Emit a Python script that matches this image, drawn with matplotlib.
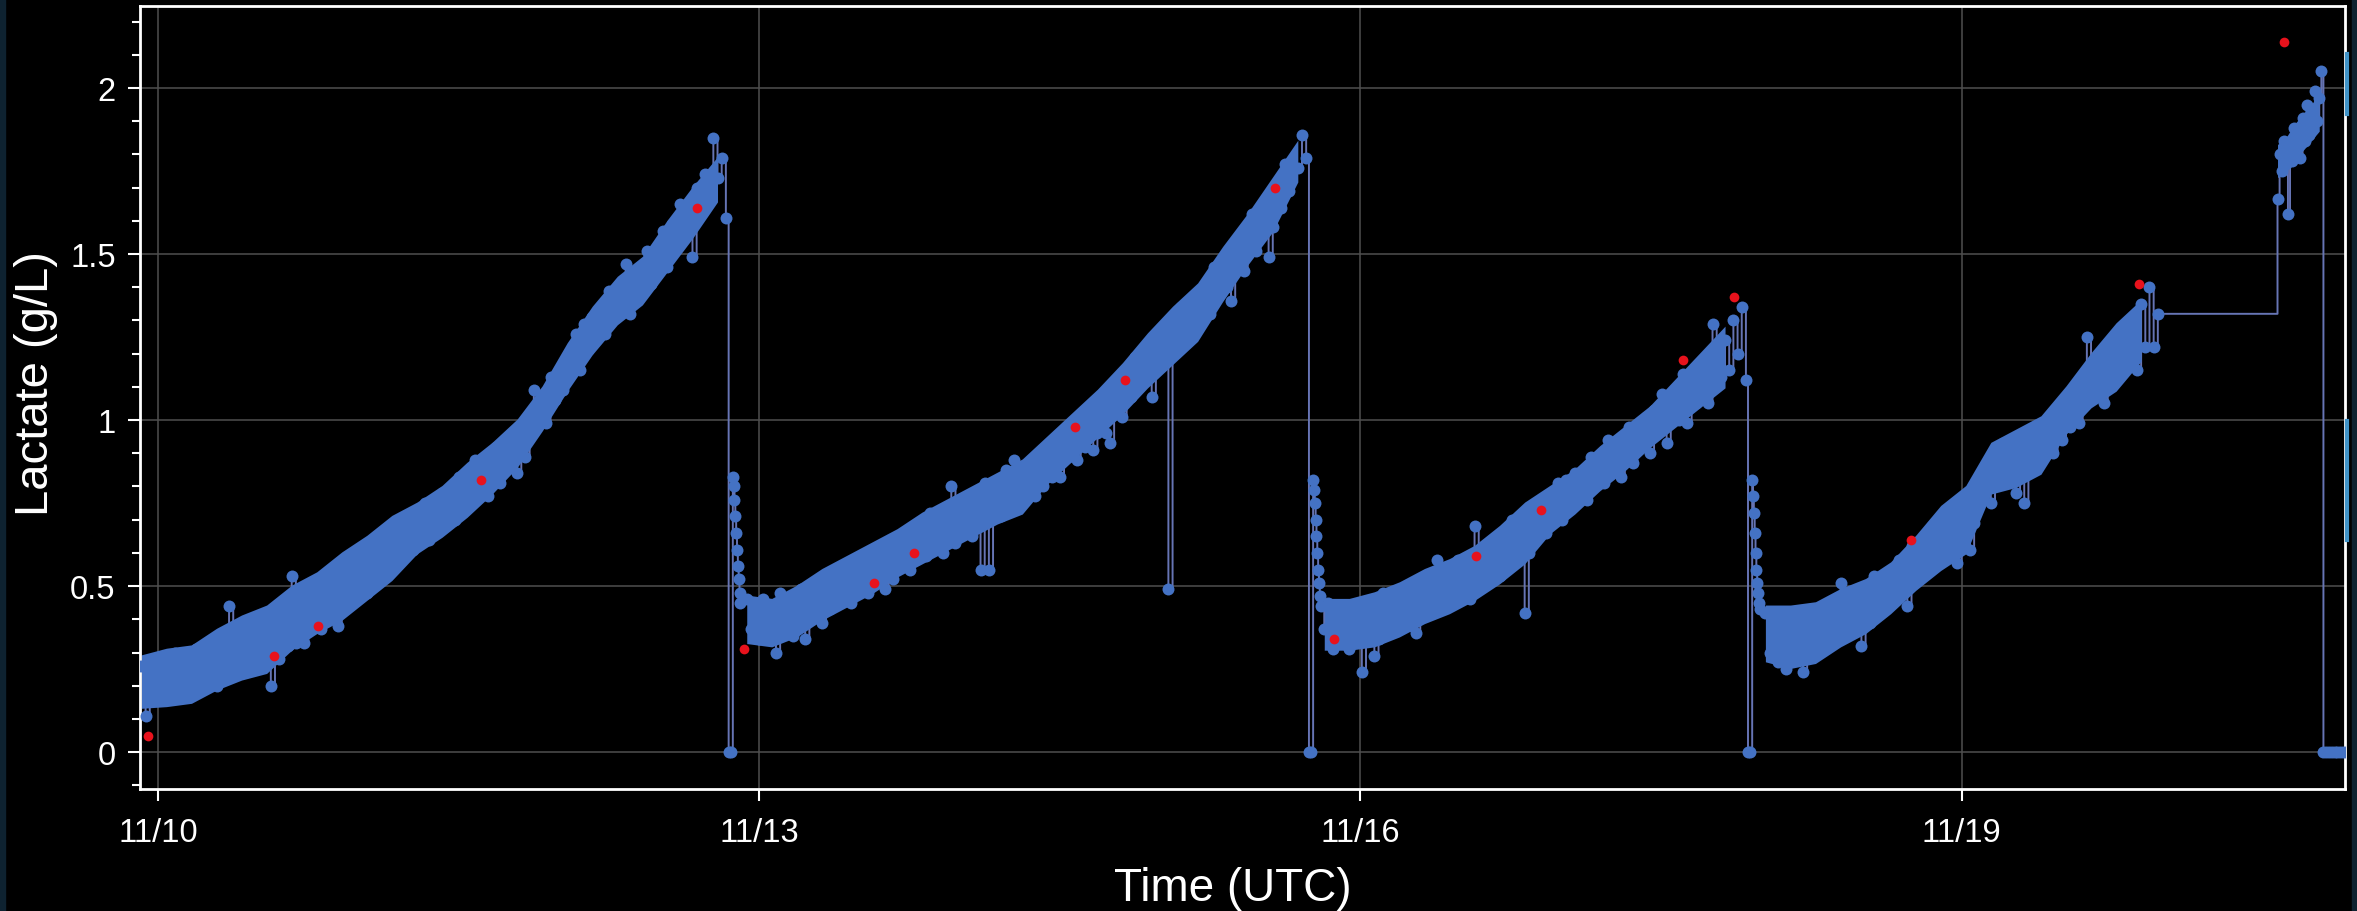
import numpy as np
import pandas as pd
import matplotlib
matplotlib.use("Agg")
import matplotlib.pyplot as plt
import matplotlib.dates as mdates
from matplotlib.ticker import MultipleLocator, FuncFormatter
from matplotlib.lines import Line2D
from matplotlib.patches import Rectangle

plt.rcParams['font.family'] = ['Liberation Sans', 'DejaVu Sans']

# ---------------- online probe readings (g/L) ----------------
# Each run has a start time and a constant sampling interval.
run_a_start, run_a_step = "2023-11-09 22:00", "30min"
run_a = [0.26, 0.11, 0.22, 0.16, 0.28, 0.20, 0.25, 0.18, 0.30, 0.20, 0.24, 0.17,
         0.21, 0.31, 0.19, 0.27, 0.25, 0.31, 0.20, 0.31, 0.23, 0.44, 0.26, 0.32,
         0.31, 0.24, 0.37, 0.28, 0.35, 0.27, 0.33, 0.20, 0.40, 0.28, 0.40, 0.32,
         0.53, 0.33, 0.39, 0.33, 0.45, 0.38, 0.44, 0.37, 0.50, 0.40, 0.44, 0.38,
         0.46, 0.56, 0.45, 0.54, 0.52, 0.59, 0.48, 0.60, 0.53, 0.65, 0.57, 0.63,
         0.63, 0.56, 0.70, 0.61, 0.69, 0.61, 0.68, 0.66, 0.75, 0.64, 0.76, 0.68,
         0.78, 0.70, 0.76, 0.70, 0.83, 0.76, 0.82, 0.75, 0.88, 0.79, 0.83, 0.77,
         0.82, 0.92, 0.81, 0.90, 0.88, 0.95, 0.84, 0.96, 0.89, 1.01, 1.09, 1.00,
         1.05, 0.99, 1.13, 1.06, 1.15, 1.09, 1.17, 1.15, 1.26, 1.15, 1.29, 1.21,
         1.31, 1.24, 1.31, 1.26, 1.39, 1.33, 1.39, 1.33, 1.47, 1.32, 1.43, 1.38,
         1.40, 1.51, 1.41, 1.50, 1.49, 1.57, 1.46, 1.59, 1.53, 1.65, 1.58, 1.65,
         1.49, 1.70, 1.62, 1.74, 1.68, 1.85, 1.73, 1.79, 1.61]

zeros_1_start, zeros_1_step = "2023-11-12 20:20", "15min"
zeros_1 = [0.0, 0.0]
recovery_1_start, recovery_1_step = "2023-11-12 20:50", "6min"
recovery_1 = [0.83, 0.80, 0.76, 0.71, 0.66, 0.61, 0.56, 0.52, 0.48, 0.45]

run_b_start, run_b_step = "2023-11-12 22:30", "30min"
run_b = [0.46, 0.37, 0.41, 0.34, 0.46, 0.38, 0.43, 0.30, 0.48, 0.38, 0.42, 0.35,
         0.40, 0.49, 0.34, 0.46, 0.44, 0.50, 0.39, 0.50, 0.43, 0.54, 0.46, 0.51,
         0.52, 0.45, 0.58, 0.49, 0.56, 0.48, 0.55, 0.52, 0.61, 0.49, 0.61, 0.52,
         0.64, 0.56, 0.61, 0.55, 0.68, 0.61, 0.66, 0.59, 0.72, 0.63, 0.66, 0.60,
         0.65, 0.80, 0.63, 0.72, 0.70, 0.76, 0.65, 0.77, 0.55, 0.81, 0.55, 0.78,
         0.78, 0.71, 0.85, 0.75, 0.88, 0.75, 0.82, 0.79, 0.88, 0.77, 0.88, 0.80,
         0.91, 0.83, 0.89, 0.83, 0.96, 0.89, 0.95, 0.88, 1.01, 0.92, 0.96, 0.91,
         0.96, 1.07, 0.96, 0.93, 1.04, 1.12, 1.01, 1.14, 1.07, 1.19, 1.12, 1.18,
         1.19, 1.07, 1.26, 1.18, 1.26, 0.49, 1.26, 1.24, 1.34, 1.23, 1.35, 1.28,
         1.38, 1.31, 1.37, 1.32, 1.46, 1.39, 1.46, 1.40, 1.36, 1.45, 1.50, 1.45,
         1.51, 1.62, 1.51, 1.61, 1.60, 1.49, 1.58, 1.70, 1.64, 1.77, 1.69, 1.76,
         1.76, 1.86, 1.79]

zeros_2_start, zeros_2_step = "2023-11-15 17:50", "15min"
zeros_2 = [0.0, 0.0]
recovery_2_start, recovery_2_step = "2023-11-15 18:20", "6min"
recovery_2 = [0.82, 0.79, 0.75, 0.70, 0.65, 0.60, 0.55, 0.51, 0.47, 0.44]

run_c_start, run_c_step = "2023-11-15 19:40", "30min"
run_c = [0.37, 0.45, 0.31, 0.40, 0.37, 0.43, 0.31, 0.42, 0.34, 0.24, 0.37, 0.42,
         0.29, 0.34, 0.48, 0.38, 0.46, 0.37, 0.44, 0.41, 0.50, 0.38, 0.36, 0.41,
         0.51, 0.43, 0.48, 0.58, 0.55, 0.47, 0.53, 0.46, 0.58, 0.49, 0.53, 0.46,
         0.68, 0.61, 0.50, 0.59, 0.57, 0.64, 0.53, 0.65, 0.58, 0.70, 0.61, 0.67,
         0.42, 0.60, 0.74, 0.66, 0.74, 0.66, 0.73, 0.71, 0.81, 0.70, 0.82, 0.74,
         0.84, 0.76, 0.82, 0.76, 0.89, 0.82, 0.88, 0.81, 0.94, 0.85, 0.89, 0.83,
         0.88, 0.98, 0.87, 0.96, 0.94, 1.01, 0.90, 1.03, 0.96, 1.08, 0.93, 1.06,
         1.07, 1.00, 1.14, 0.99, 1.13, 1.05, 1.12, 1.10, 1.05, 1.29, 1.20, 1.13,
         1.24, 1.15, 1.30, 1.20, 1.34, 1.12]

zeros_3_start, zeros_3_step = "2023-11-17 22:25", "15min"
zeros_3 = [0.0, 0.0]
recovery_3_start, recovery_3_step = "2023-11-17 22:55", "6min"
recovery_3 = [0.82, 0.77, 0.72, 0.66, 0.60, 0.55, 0.51, 0.48, 0.45, 0.43]

run_d_start, run_d_step = "2023-11-18 00:30", "30min"
run_d = [0.42, 0.30, 0.40, 0.27, 0.38, 0.25, 0.41, 0.29, 0.37, 0.24, 0.40, 0.31,
         0.33, 0.43, 0.31, 0.40, 0.37, 0.44, 0.51, 0.44, 0.37, 0.48, 0.40, 0.32,
         0.46, 0.39, 0.53, 0.44, 0.52, 0.44, 0.51, 0.49, 0.58, 0.48, 0.44, 0.62,
         0.63, 0.55, 0.61, 0.55, 0.68, 0.61, 0.67, 0.60, 0.73, 0.64, 0.57, 0.62,
         0.68, 0.61, 0.69, 0.79, 0.78, 0.85, 0.75, 0.88, 0.81, 0.93, 0.85, 0.91,
         0.78, 0.83, 0.75, 0.87, 0.95, 0.87, 0.94, 0.92, 1.01, 0.90, 1.02, 0.94,
         1.05, 0.98, 1.04, 0.99, 1.13, 1.25, 1.13, 1.07, 1.20, 1.05, 1.16, 1.11,
         1.24, 1.14, 1.27, 1.17, 1.30, 1.15, 1.35, 1.22, 1.40, 1.22, 1.32]

run_e_start, run_e_step = "2023-11-20 13:50", "15min"
run_e = [1.665, 1.80, 1.75, 1.84, 1.77, 1.62, 1.83, 1.78, 1.88, 1.80, 1.86, 1.79,
         1.91, 1.84, 1.95, 1.86, 1.93, 1.89, 1.99, 1.90, 1.97, 2.05]

zeros_4_start, zeros_4_step = "2023-11-20 19:20", "20min"
zeros_4 = [0.0, 0.0, 0.0, 0.0, 0.0, 0.0, 0.0, 0.0, 0.0]

# Core spread of the high-rate readings: lower / upper edge at a fixed step,
# starting at the beginning of each run.
band_a_low = [0.132, 0.137, 0.147, 0.187, 0.217, 0.237, 0.307, 0.357, 0.397, 0.457,
              0.517, 0.597, 0.647, 0.707, 0.777, 0.857, 0.967, 1.087, 1.197, 1.287,
              1.347, 1.447, 1.547, 1.657]
band_a_high = [0.293, 0.313, 0.323, 0.373, 0.413, 0.443, 0.503, 0.543, 0.603, 0.653,
               0.713, 0.753, 0.803, 0.873, 0.933, 1.003, 1.103, 1.233, 1.343, 1.433,
               1.493, 1.603, 1.703, 1.793]
band_b_low = [0.327, 0.317, 0.347, 0.397, 0.437, 0.477, 0.527, 0.567, 0.607, 0.647,
              0.687, 0.717, 0.807, 0.877, 0.947, 1.017, 1.097, 1.167, 1.237, 1.357,
              1.467, 1.567, 1.717]
band_b_high = [0.473, 0.463, 0.503, 0.553, 0.593, 0.633, 0.673, 0.723, 0.763, 0.803,
               0.843, 0.883, 0.953, 1.023, 1.093, 1.173, 1.263, 1.343, 1.413, 1.523,
               1.623, 1.733, 1.843]
band_c_low = [0.307, 0.307, 0.317, 0.347, 0.387, 0.417, 0.457, 0.507, 0.567, 0.657,
              0.717, 0.787, 0.847, 0.917, 0.977, 1.037, 1.097]
band_c_high = [0.463, 0.463, 0.483, 0.513, 0.553, 0.583, 0.623, 0.683, 0.753, 0.803,
               0.853, 0.923, 0.983, 1.043, 1.123, 1.203, 1.283]
band_d_low = [0.272, 0.252, 0.267, 0.317, 0.357, 0.417, 0.487, 0.547, 0.597, 0.777,
              0.797, 0.837, 0.957, 1.037, 1.087, 1.177]
band_d_high = [0.443, 0.443, 0.453, 0.493, 0.523, 0.573, 0.653, 0.743, 0.803, 0.933,
               0.973, 1.013, 1.103, 1.203, 1.293, 1.363]
band_e_low = [1.73, 1.75, 1.78, 1.81, 1.84, 1.87]
band_e_high = [1.83, 1.85, 1.89, 1.92, 1.95, 1.98]

# ---------------- offline reference samples (g/L) ----------------
sample_times = ["2023-11-09 22:47", "2023-11-10 13:55", "2023-11-10 19:06",
                "2023-11-11 14:41", "2023-11-12 16:31", "2023-11-12 22:12",
                "2023-11-13 13:41", "2023-11-13 18:35", "2023-11-14 13:52",
                "2023-11-14 19:45", "2023-11-15 13:44", "2023-11-15 20:50",
                "2023-11-16 13:49", "2023-11-16 21:36", "2023-11-17 14:37",
                "2023-11-17 20:44", "2023-11-18 17:53", "2023-11-19 21:13",
                "2023-11-20 14:38"]
sample_values = [0.05, 0.29, 0.38, 0.82, 1.64, 0.31, 0.51, 0.60, 0.98, 1.12,
                 1.70, 0.34, 0.59, 0.73, 1.18, 1.37, 0.64, 1.41, 2.14]

# ---------------- axis settings ----------------
x_start, x_end = "2023-11-09 21:50", "2023-11-20 21:55"
y_low, y_high = -0.111, 2.247
tick_days = [10, 13, 16, 19]

runs = [
    (run_a_start, run_a_step, run_a),
    (zeros_1_start, zeros_1_step, zeros_1),
    (recovery_1_start, recovery_1_step, recovery_1),
    (run_b_start, run_b_step, run_b),
    (zeros_2_start, zeros_2_step, zeros_2),
    (recovery_2_start, recovery_2_step, recovery_2),
    (run_c_start, run_c_step, run_c),
    (zeros_3_start, zeros_3_step, zeros_3),
    (recovery_3_start, recovery_3_step, recovery_3),
    (run_d_start, run_d_step, run_d),
    (run_e_start, run_e_step, run_e),
    (zeros_4_start, zeros_4_step, zeros_4),
]
bands = [
    (run_a_start, "3h", band_a_low, band_a_high),
    (run_b_start, "3h", band_b_low, band_b_high),
    (run_c_start, "3h", band_c_low, band_c_high),
    (run_d_start, "3h", band_d_low, band_d_high),
    (run_e_start, "1h", band_e_low, band_e_high),
]

times = np.concatenate([
    pd.date_range(start, periods=len(vals), freq=step).to_numpy()
    for start, step, vals in runs
])
values = np.concatenate([np.asarray(vals, dtype=float) for _, _, vals in runs])
s_times = pd.to_datetime(sample_times).to_numpy()

# ---------------- figure ----------------
W, H, DPI = 2357, 912, 100
fig = plt.figure(figsize=(W / DPI, H / DPI), dpi=DPI, facecolor="black")
ax = fig.add_axes([140 / W, 1 - 790 / H, (2345 - 140) / W, (790 - 7) / H])
ax.set_facecolor("black")

probe_blue = "#4472c4"
line_blue = "#6674b4"
sample_red = "#e8121c"

ax.plot(times, values, drawstyle="steps-post", color=line_blue, lw=1.4,
        zorder=2)
for start, step, low, high in bands:
    bt = pd.date_range(start, periods=len(low), freq=step).to_numpy()
    ax.fill_between(bt, low, high, color=probe_blue, lw=0, zorder=2.5)
ax.plot(times, values, linestyle="none", marker="o", ms=8.6,
        mfc=probe_blue, mec=probe_blue, mew=0, zorder=3)
ax.plot(s_times, sample_values, linestyle="none", marker="o", ms=7.0,
        mfc=sample_red, mec=sample_red, mew=0, zorder=4)

ax.set_xlim(np.datetime64(pd.Timestamp(x_start)), np.datetime64(pd.Timestamp(x_end)))
ax.set_ylim(y_low, y_high)

ax.xaxis.set_major_locator(mdates.DayLocator(bymonthday=tick_days))
ax.xaxis.set_major_formatter(mdates.DateFormatter("%m/%d"))
ax.yaxis.set_major_locator(MultipleLocator(0.5))
ax.yaxis.set_minor_locator(MultipleLocator(0.1))
ax.yaxis.set_major_formatter(FuncFormatter(lambda v, p: f"{v:g}"))

ax.grid(True, which="major", color="#4f4f4f", lw=1.1)
ax.set_axisbelow(True)

ax.tick_params(axis="both", which="major", colors="white", length=8.5,
               width=1.5, labelsize=23.5, direction="out")
ax.tick_params(axis="x", pad=12)
ax.tick_params(axis="y", pad=9)
ax.tick_params(axis="y", which="minor", colors="white", length=6, width=1.5)
for side in ("left", "right", "top", "bottom"):
    ax.spines[side].set_color("white")
    ax.spines[side].set_linewidth(2)

fig.text(1233 / W, 1 - 889 / H, "Time (UTC)", ha="center", va="center",
         fontsize=33, color="white")
fig.text(36 / W, 1 - 384 / H, "Lactate (g/L)", ha="center", va="center",
         rotation=90, fontsize=34, color="white")

# window frame strips and scroll indicator at the edges
edge = "#0e2230"
fig.add_artist(Rectangle((0, 0), 5 / W, 1, transform=fig.transFigure,
                         color=edge, zorder=5))
fig.add_artist(Rectangle((2352 / W, 0), 5 / W, 1, transform=fig.transFigure,
                         color=edge, zorder=5))
for y0, y1 in ((55, 115), (422, 541)):
    fig.add_artist(Line2D([2347 / W, 2347 / W], [1 - y0 / H, 1 - y1 / H],
                          transform=fig.transFigure, color="#3f93c8", lw=3,
                          zorder=6))

fig.savefig("out.png", dpi=DPI, facecolor="black")
